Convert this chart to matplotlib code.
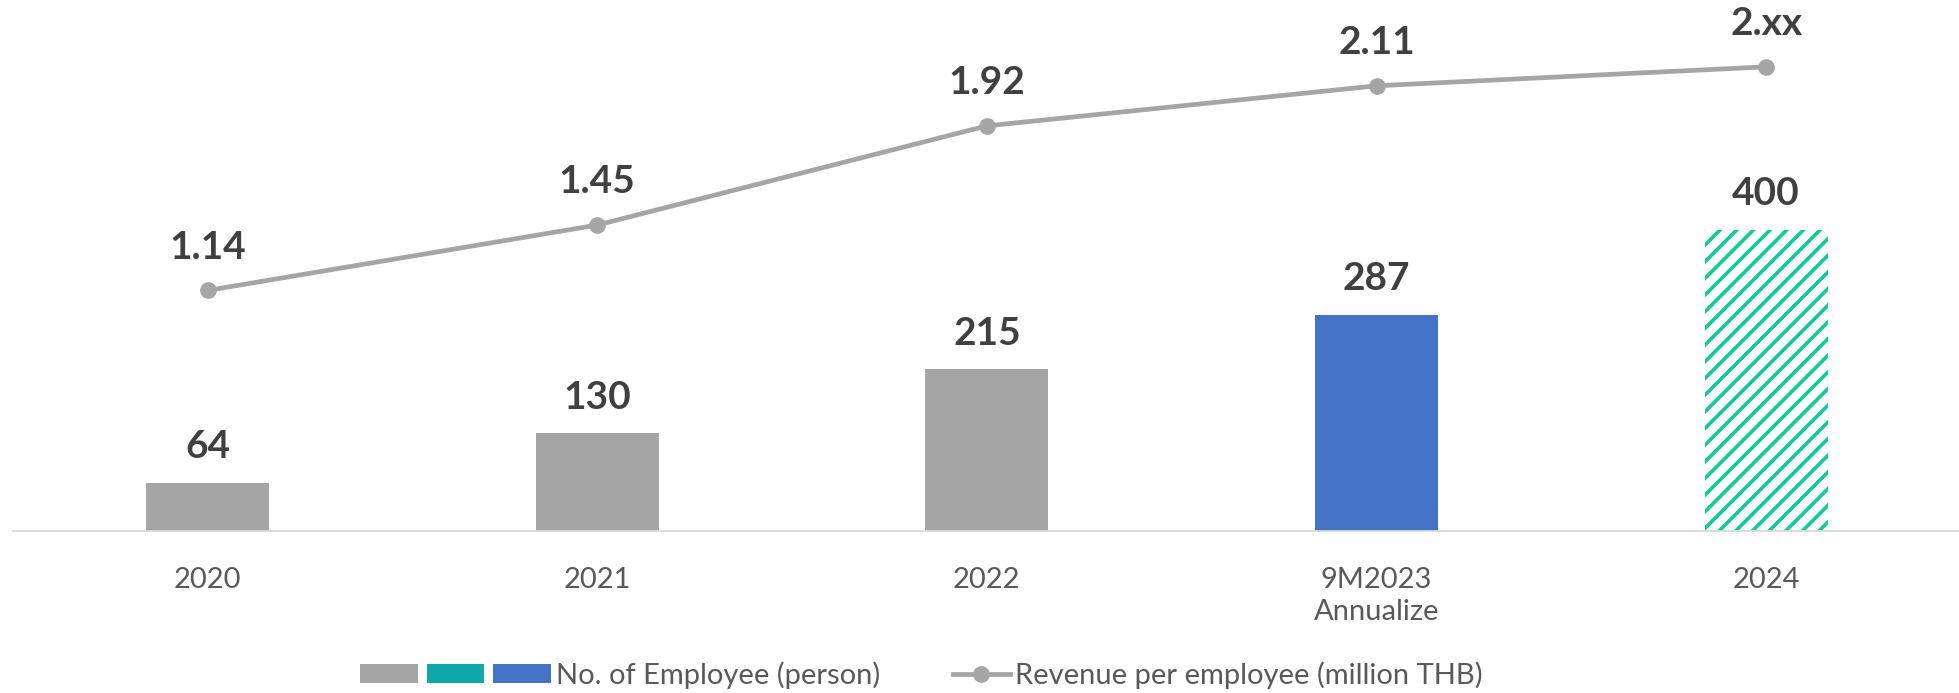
import matplotlib
matplotlib.use("Agg")
import matplotlib.pyplot as plt
from matplotlib.patches import Patch
from matplotlib.lines import Line2D
from matplotlib.legend_handler import HandlerTuple

plt.rcParams['font.family'] = ['Lato', 'DejaVu Sans']
plt.rcParams['hatch.linewidth'] = 2.6

categories = ["2020", "2021", "2022", "9M2023\nAnnualize", "2024"]
employees = [64, 130, 215, 287, 400]
employee_labels = ["64", "130", "215", "287", "400"]
revenue_per_emp = [1.14, 1.45, 1.92, 2.11, 2.20]
revenue_labels = ["1.14", "1.45", "1.92", "2.11", "2.xx"]

GRAY = "#A5A5A5"
BLUE = "#4472C4"
TEAL = "#0FA8A8"
GREEN = "#12C99B"
LABEL = "#404040"
TICK = "#595959"

fig = plt.figure(figsize=(19.59, 6.93), dpi=100)
ax = fig.add_axes([12.7 / 1959, 162 / 693, 1948.3 / 1959, 531 / 693])
ax2 = ax.twinx()

x = list(range(len(categories)))
bar_colors = [GRAY, GRAY, GRAY, BLUE, "white"]
bars = ax.bar(x, employees, width=0.316, color=bar_colors, linewidth=0, zorder=2)
bars[4].set_hatch("//")
bars[4].set_edgecolor(GREEN)
bars[4].set_linewidth(0)

ax.set_xlim(-0.5, 4.5)
ax.set_ylim(0, 531 / 0.7525)
ax2.set_ylim(0, 531 / 211.0)

ax2.plot(x, revenue_per_emp, color=GRAY, lw=3.4, marker="o", markersize=11, zorder=3)

for xi, v, lab in zip(x, employees, employee_labels):
    ax.annotate(lab, (xi, v), xytext=(0, 26), textcoords="offset points",
                ha="center", va="center", fontsize=28, fontweight="bold", color=LABEL)
for xi, v, lab in zip(x, revenue_per_emp, revenue_labels):
    ax2.annotate(lab, (xi, v), xytext=(0, 31), textcoords="offset points",
                 ha="center", va="center", fontsize=28, fontweight="bold", color=LABEL)

for a in (ax, ax2):
    for s in ("top", "right", "left"):
        a.spines[s].set_visible(False)
    a.set_yticks([])
ax.spines["bottom"].set_color("#D9D9D9")
ax.spines["bottom"].set_linewidth(1.3)
ax2.spines["bottom"].set_visible(False)

ax.set_xticks(x)
ax.set_xticklabels(categories, fontsize=21, color=TICK, linespacing=1.3)
ax.tick_params(axis="x", length=0, pad=26)

# Legends
h1 = (Patch(facecolor=GRAY), Patch(facecolor=TEAL), Patch(facecolor=BLUE))
leg1 = fig.legend([h1], ["No. of Employee (person)"],
                  handler_map={tuple: HandlerTuple(ndivide=None, pad=0.31)},
                  loc="center left", bbox_to_anchor=(360 / 1959, 18 / 693),
                  frameon=False, borderpad=0, borderaxespad=0,
                  handlelength=6.55, handleheight=0.6, handletextpad=0.17,
                  fontsize=21, labelcolor=TICK)
h2 = Line2D([], [], color=GRAY, lw=3.4, marker="o", markersize=11)
leg2 = fig.legend([h2], ["Revenue per employee (million THB)"],
                  loc="center left", bbox_to_anchor=(953 / 1959, 18 / 693),
                  frameon=False, borderpad=0, borderaxespad=0,
                  handlelength=1.95, handletextpad=0.17,
                  fontsize=21, labelcolor=TICK)

fig.savefig("out.png", dpi=100)
